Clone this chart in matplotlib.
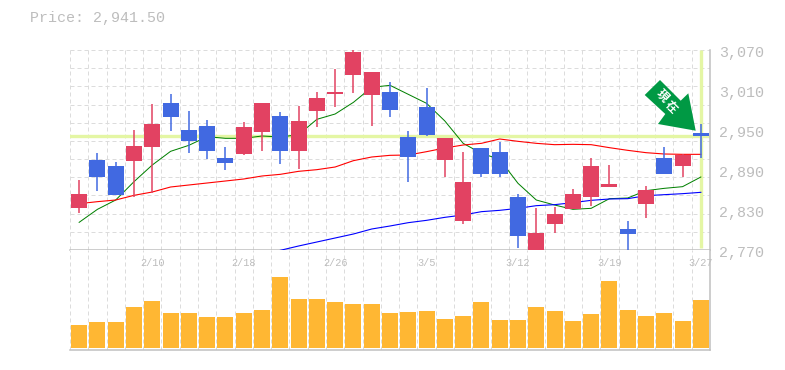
import matplotlib
matplotlib.use("Agg")
import matplotlib.pyplot as plt
from matplotlib.patches import Polygon, Rectangle
from matplotlib.transforms import Affine2D

W, H = 785, 370

# bar colour follows the direction: red = up, blue = down
opens = [2833.5, 2905, 2896, 2904, 2925, 2990.5, 2950, 2956, 2908, 2914.5, 2947.5, 2971, 2919,
         2979, 3004.5, 3033, 3003, 3007, 2939.5, 2984.5, 2905.5, 2813.5, 2923, 2917, 2849.5,
         2766, 2809.5, 2831.5, 2850, 2864.5, 2801.5, 2839.5, 2908, 2896.5, 2945]
highs = [2875, 2915.5, 2902, 2950, 2989, 3004, 2978.5, 2965, 2924.5, 2962, 2990.5, 2977, 2986,
         3007, 3041.5, 3070, 3037, 3022, 2948.5, 3013, 2938, 2917, 2923, 2932, 2854,
         2833, 2834.5, 2861.5, 2908, 2897.5, 2813.5, 2866, 2924.5, 2914, 2959]
lows = [2826, 2859, 2853, 2849, 2855, 2949, 2916, 2907, 2890.5, 2913, 2919, 2899.5, 2892,
        2955, 2985, 3006, 2956.5, 2970, 2872.5, 2941, 2880, 2809.5, 2880, 2880, 2773.5,
        2766, 2796, 2831.5, 2836.5, 2864.5, 2770, 2818.5, 2884.5, 2880, 2908.5]
closes = [2854, 2880, 2853, 2926, 2959, 2970, 2934, 2919, 2901, 2954.5, 2990.5, 2919, 2963.5,
          2998, 3007, 3067, 3037, 2980, 2910, 2942.5, 2938, 2872, 2884.5, 2884.5, 2791.5,
          2796, 2824, 2854, 2896, 2869, 2794.5, 2860, 2884.5, 2912.5, 2941]
volumes = [23, 26, 26, 41, 47, 35, 35, 31, 31, 35, 38, 71, 49, 49, 46, 44, 44, 35,
           36, 37, 29, 32, 46, 28, 28, 41, 37, 27, 34, 67, 38, 32, 35, 27, 48]

ma_short = [2811.5, 2831, 2845, 2872.5, 2897.5, 2918, 2927, 2940, 2937.5, 2937.5, 2941, 2939.5, 2943,
            2966, 2974, 2991.5, 3014, 3017, 3003.5, 2990, 2963.5, 2930, 2915, 2906, 2870,
            2845, 2837.5, 2831, 2832.5, 2847, 2848, 2859, 2862.5, 2865, 2879.5]
ma_mid = [2839.5, 2842.5, 2845, 2852, 2857, 2864.5, 2867.5, 2870.5, 2873.5, 2876.5, 2881, 2883.5, 2888,
          2890.5, 2894.5, 2904, 2909.5, 2912, 2912.5, 2917.5, 2923, 2927.5, 2930, 2936.5, 2933,
          2930, 2928, 2928.5, 2928, 2923.5, 2919.5, 2916, 2914, 2913.5, 2913.5]
ma_long = [2769.5, 2776, 2782, 2788, 2794, 2801.5, 2806, 2811, 2814.5, 2819, 2822.5, 2827.5, 2829.5,
           2832.5, 2836.5, 2838, 2841, 2844.5, 2846.5, 2847, 2851.5, 2853, 2854.5, 2856.5]
ma_long_start = 11

price_ticks = [3070, 3010, 2950, 2890, 2830, 2770]
date_idx = [4, 9, 14, 19, 24, 29, 34]
date_labels = ["2/10", "2/18", "2/26", "3/5", "3/12", "3/19", "3/27"]
last_price = 2941.5

RED = "#e24262"
BLUE = "#4169e1"
ORANGE = "#ffb733"
GRID = "#dcdcdc"
AXIS = "#c0c0c0"
TEXT = "#bdbdbd"
HILITE = "#e4f6a4"
MONO = "Liberation Mono"


def px_axes(fig, left, top, right, bottom):
    return fig.add_axes([left / W, 1 - bottom / H, (right - left) / W, (bottom - top) / H])


def dashed(ax, horizontal=True):
    for i in range(len(opens)):
        ax.axvline(i - 0.5, color=GRID, lw=0.72, dashes=(4, 3), zorder=1)
    if horizontal:
        low, high = ax.get_ylim()
        step = (high - low) / 11
        for i in range(11):
            ax.axhline(low + step * (i + 1), color=GRID, lw=0.72, dashes=(4, 3), zorder=1)


fig = plt.figure(figsize=(W / 100, H / 100), dpi=100, facecolor="white")
ax = px_axes(fig, 70, 50, 710, 250)
vol = px_axes(fig, 70, 250, 710, 350)

n = len(opens)
xs = list(range(n))
ax.set_xlim(-0.5, n - 0.5)
ax.set_ylim(2770, 3070)
vol.set_xlim(-0.5, n - 0.5)
vol.set_ylim(-2, 98)
dashed(ax)
dashed(vol, horizontal=False)

# current price cross
ax.axhline(last_price, color=HILITE, lw=2.4, zorder=2)
ax.plot([n - 1, n - 1], [2773, 3070], color=HILITE, lw=2.4, zorder=2, solid_capstyle="butt")

ax.plot(xs, ma_short, color="#008000", lw=0.72, zorder=3)
ax.plot(xs, ma_mid, color="#ff0000", lw=0.8, zorder=3)
ax.plot(xs[ma_long_start:], ma_long, color="#0000ff", lw=0.8, zorder=3)

for i in xs:
    up = closes[i] >= opens[i]
    c = RED if up else BLUE
    ax.plot([i, i], [lows[i], highs[i]], color=c, lw=1.1, zorder=4, clip_on=False, solid_capstyle="butt")
    ax.add_patch(Rectangle((i - 0.44, min(opens[i], closes[i])), 0.88, abs(closes[i] - opens[i]),
                           facecolor=c, edgecolor="none", zorder=5, clip_on=False))

vol.bar(xs, volumes, width=0.88, color=ORANGE, zorder=3)

for a in (ax, vol):
    a.set_xticks([])
    a.set_yticks([])
    a.set_facecolor("white")
    for s in ("left", "top"):
        a.spines[s].set_visible(False)
    for s in ("bottom", "right"):
        a.spines[s].set_color(AXIS)
        a.spines[s].set_linewidth(1.1)

# price labels sit a little below their levels, as in the picture
for p in price_ticks:
    ax.annotate(f"{p:,}", xy=(1, (p - 2770) / 300), xycoords="axes fraction", xytext=(9, -3),
                textcoords="offset pixels", fontsize=10.8, family=MONO, color=TEXT,
                ha="left", va="center", annotation_clip=False)

for i, lab in zip(date_idx, date_labels):
    vol.text(i, 85, lab, fontsize=7.4, family=MONO, color=TEXT, ha="center", va="center", zorder=4)

fig.text(30 / W, 1 - 18 / H, "Price: 2,941.50", fontsize=10.8, family=MONO, color=TEXT, ha="left", va="center")

# arrow pointing at the latest price, offsets in pixels from its tip
tip = (695.7, 239.3)
arrow_shape = [(-35.7, 50.7), (-51, 35.7), (-30.4, 16.7), (-37.7, 6.7), (0, 0), (-7.4, 37.4), (-15, 30)]
fig.add_artist(Polygon(arrow_shape, closed=True, facecolor="#009944", edgecolor="none",
                       transform=Affine2D().translate(*tip), zorder=6))
for ch, (tx, ty) in zip("現在", [(662, 96), (671, 107)]):
    fig.text(tx / W, 1 - ty / H, ch, fontsize=8.5, family=["Noto Sans CJK JP", "DejaVu Sans"], fontweight="bold",
             color="white", rotation=-45, rotation_mode="anchor", ha="center", va="center", zorder=7)

fig.savefig("out.png", dpi=100)
